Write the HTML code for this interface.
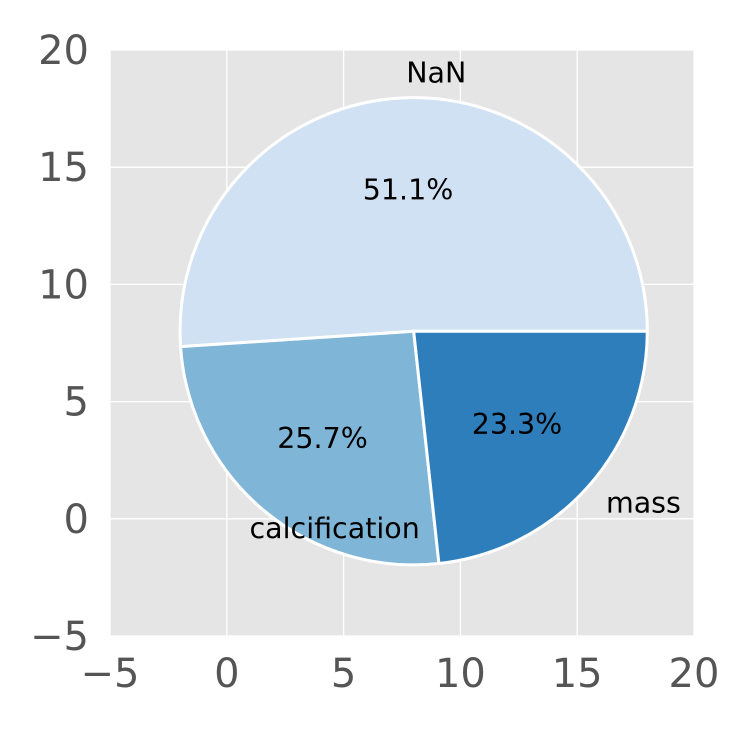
<!DOCTYPE html>
<html><head><meta charset="utf-8"><style>
body{margin:0;background:#fff;}
text{font-family:"DejaVu Sans","Liberation Sans",sans-serif;}
</style></head><body>
<svg id="chart" width="752" height="724" xmlns="http://www.w3.org/2000/svg"></svg>
<script>
const categories = ["NaN", "calcification", "mass"];
const shares = [51.1, 25.7, 23.3];
const colors = ["#cfe1f2", "#7fb6d8", "#2e7ebc"];
const xTicks = [-5, 0, 5, 10, 15, 20];
const yTicks = [-5, 0, 5, 10, 15, 20];
const center = [8, 8];
const radius = 10;

const svg = document.getElementById('chart');
const NS = "http://www.w3.org/2000/svg";
const L = 110, R = 694, T = 50, B = 636;
const sx = v => L + (v + 5) / 25 * (R - L);
const sy = v => B - (v + 5) / 25 * (B - T);
function mk(tag, attrs, parent) {
  const e = document.createElementNS(NS, tag);
  for (const k in attrs) e.setAttribute(k, attrs[k]);
  (parent || svg).appendChild(e);
  return e;
}
const bg = mk('rect', {x: L, y: T, width: R - L, height: B - T, fill: '#e5e5e5'});


xTicks.forEach(t => {
  const g = mk('line', {x1: sx(t), x2: sx(t), y1: T, y2: B, stroke: '#fff', 'stroke-width': 1.3});
  
  
  const lb = mk('text', {x: sx(t), y: 687, 'text-anchor': 'middle', 'font-size': 40, fill: '#555'});
  lb.textContent = t < 0 ? '\u2212' + (-t) : t;
  
  
});
yTicks.forEach(t => {
  const g = mk('line', {x1: L, x2: R, y1: sy(t), y2: sy(t), stroke: '#fff', 'stroke-width': 1.3});
  
  
  const lb = mk('text', {x: 89, y: sy(t) + 14, 'text-anchor': 'end', 'font-size': 40, fill: '#555'});
  lb.textContent = t < 0 ? '\u2212' + (-t) : t;
  
  
});
const total = shares.reduce((a, b) => a + b, 0);
let a0 = 0;
const rpx = (sx(radius) - sx(0));
shares.forEach((s, i) => {
  const a1 = a0 + s / total * 2 * Math.PI;
  const cx = sx(center[0]), cy = sy(center[1]);
  const x0 = cx + rpx * Math.cos(a0), y0 = cy - rpx * Math.sin(a0);
  const x1 = cx + rpx * Math.cos(a1), y1 = cy - rpx * Math.sin(a1);
  const large = (a1 - a0) > Math.PI ? 1 : 0;
  const p = mk('path', {d: `M${cx},${cy} L${x0},${y0} A${rpx},${rpx} 0 ${large} 0 ${x1},${y1} Z`,
    fill: colors[i], stroke: '#fff', 'stroke-width': 3, 'stroke-linejoin': 'round'});
  
  
  const m = (a0 + a1) / 2;
  const lx = sx(center[0] + 1.1 * radius * Math.cos(m)), ly = sy(center[1] + 1.1 * radius * Math.sin(m));
  const lt = mk('text', {x: lx + 1, y: ly + 9, 'text-anchor': 'start', 'font-size': 28.5, fill: '#000'});
  lt.textContent = categories[i];
  
  
  const px = sx(center[0] + 0.6 * radius * Math.cos(m)), py = sy(center[1] + 0.6 * radius * Math.sin(m));
  const pt = mk('text', {x: px - 1, y: py + 9, 'text-anchor': 'middle', 'font-size': 28.5, fill: '#000'});
  pt.textContent = s.toFixed(1) + '%';
  
  
  a0 = a1;
});
</script>
</body></html>
